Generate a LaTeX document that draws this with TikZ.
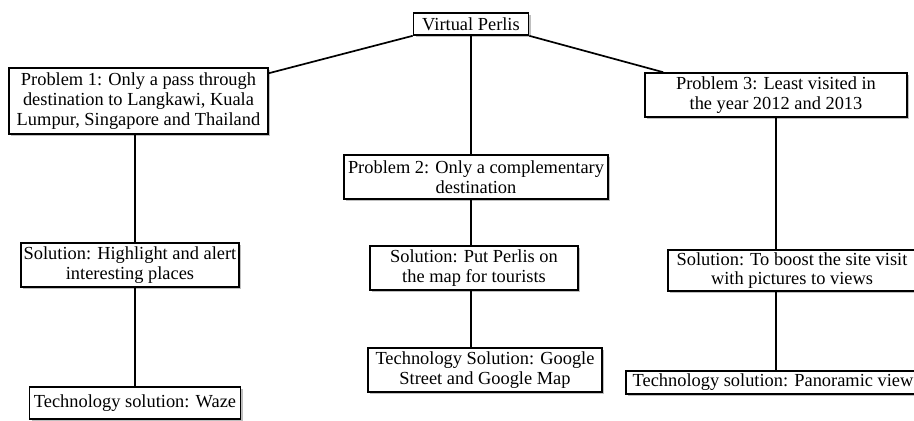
\documentclass[tikz,border=0pt]{standalone}
\usepackage{fontspec}
\setmainfont{Liberation Serif}
\usetikzlibrary{shadows}

\tikzset{
    pbox/.style={draw, fill=white, line width=0.8pt, align=center,
        inner sep=1pt, font=\fontsize{9.2}{9.9}\selectfont,
        drop shadow={shadow xshift=1.1pt, shadow yshift=-1.1pt,
            fill=black!25, opacity=1}},
    link/.style={line width=0.85pt}
}

\begin{document}
\begin{tikzpicture}[x=0.5pt, y=-0.5pt]
    \useasboundingbox (0, 0) rectangle (914, 420);
    \clip (0, 0) rectangle (914, 420);
    \node[pbox, minimum width=57.5pt, minimum height=11pt] (vp)
        at (471, 24) {Virtual Perlis};
    \node[pbox, minimum width=129.5pt, minimum height=33pt] (p1)
        at (138.5, 101) {Problem 1: Only a pass through\\
        destination to Langkawi, Kuala\\Lumpur, Singapore and Thailand};
    \node[pbox, minimum width=132pt, minimum height=22pt] (p2)
        at (476, 177) {Problem 2: Only a complementary\\destination};
    \node[pbox, minimum width=131pt, minimum height=22pt] (p3)
        at (776, 95) {Problem 3: Least visited in\\the year 2012 and 2013};
    \node[pbox, minimum width=109pt, minimum height=22pt] (s1)
        at (130, 265) {Solution: Highlight and alert\\interesting places};
    \node[pbox, minimum width=104pt, minimum height=22pt] (s2)
        at (474, 268) {Solution: Put Perlis on\\the map for tourists};
    \node[pbox, minimum width=124pt, minimum height=20.5pt] (s3)
        at (792, 270.5) {Solution: To boost the site visit\\with pictures to views};
    \node[pbox, minimum width=105.5pt, minimum height=16pt] (t1)
        at (135, 403) {Technology solution: Waze};
    \node[pbox, minimum width=117pt, minimum height=22pt] (t2)
        at (485, 370) {Technology Solution: Google\\Street and Google Map};
    \node[pbox, minimum width=147pt, minimum height=11.5pt] (t3)
        at (773, 382.5) {Technology solution: Panoramic view};

    \draw[link] (vp.south west) -- ([yshift=-3pt]p1.north east);
    \draw[link] (vp.south east) -- ([xshift=9.5pt]p3.north west);
    \foreach \up/\dn/\cl in
        {vp/p2/vp, p2/s2/vp, s2/t2/vp, p1/s1/t1, s1/t1/t1, p3/s3/p3, s3/t3/p3}{
        \draw[link] (\up.south -| \cl) -- (\dn.north -| \cl);
    }
\end{tikzpicture}
\end{document}
